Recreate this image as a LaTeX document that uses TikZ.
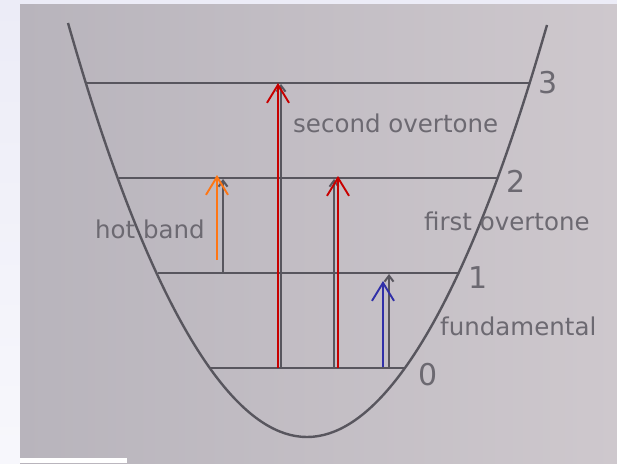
\documentclass[tikz,border=0pt]{standalone}
\usepackage{fontspec}
\setmainfont{DejaVu Sans}
\usepackage{xcolor}
\usepackage{tikz}
\usetikzlibrary{arrows.meta, positioning}

\definecolor{paperL}{RGB}{184,180,188}
\definecolor{paperR}{RGB}{206,200,205}
\definecolor{margin}{RGB}{236,236,247}
\definecolor{ink}{RGB}{88,86,94}
\definecolor{inktext}{RGB}{108,105,113}
\definecolor{redarr}{RGB}{200,0,0}
\definecolor{orangearr}{RGB}{255,118,20}
\definecolor{bluearr}{RGB}{48,48,168}

\begin{document}
\begin{tikzpicture}[
    x=1pt, y=-1pt,
    level/.style={draw=ink, line width=2.4pt},
    well/.style={draw=ink, line width=2.4pt},
    label/.style={inner sep=0pt, anchor=base west, text=inktext, font=\fontsize{24.5}{28}\selectfont},
    quantum/.style={inner sep=0pt, anchor=base, text=inktext, font=\fontsize{30}{34}\selectfont},
    printed/.style={draw=ink, line width=2.4pt, -{Straight Barb[length=6pt,width=9pt,line width=2pt]}},
    arrow/.style={line width=1.9pt, -{Straight Barb[length=18pt,width=22pt,line width=1.9pt]}}
]
    \useasboundingbox (0,0) rectangle (617,463);
    \shade[top color=margin, bottom color=margin!40!white] (0,0) rectangle (20,463);
    \fill[margin] (20,0) rectangle (617,4);
    \shade[left color=paperL, right color=paperR] (20,4) rectangle (617,463);
    \fill[white] (20,458) rectangle (127,463);

    \coordinate (v3w) at (87,83);
    \coordinate (v3e) at (530,83);
    \coordinate (v2w) at (119,178);
    \coordinate (v2e) at (497,178);
    \coordinate (v1w) at (158,273);
    \coordinate (v1e) at (459,273);
    \coordinate (v0w) at (210,368);
    \coordinate (v0e) at (405,368);

    \coordinate (sec0) at (281,368);
    \coordinate (sec3) at (281,84);
    \coordinate (fir0) at (334,368);
    \coordinate (fir2) at (334,179);
    \coordinate (hot1) at (223,273);
    \coordinate (hot2) at (223,179);
    \coordinate (fun0) at (389,368);
    \coordinate (fun1) at (389,274);

    \draw [printed] (sec0) -- (sec3);
    \draw [printed] (fir0) -- (fir2);
    \draw [printed] (hot1) -- (hot2);
    \draw [printed] (fun0) -- (fun1);

    \draw [level] (v3w) -- (v3e);
    \draw [level] (v2w) -- (v2e);
    \draw [level] (v1w) -- (v1e);
    \draw [level] (v0w) -- (v0e);
    \draw [well] (68,23) parabola bend (307,437) (547,25);

    \node (n3) [quantum] at (548,93) {3};
    \node (n2) [quantum] at (516,192) {2};
    \node (n1) [quantum] at (478,288) {1};
    \node (n0) [quantum] at (428,385) {0};

    \node (second) [label] at (293,132) {second overtone};
    \node (first) [label] at (424,230) {first overtone};
    \node (hot) [label] at (95,238) {hot band};
    \node (fund) [label] at (440,335) {fundamental};

    \coordinate (r1a) at (278,368);
    \coordinate (r1b) at (278,83);
    \coordinate (r2a) at (338,368);
    \coordinate (r2b) at (338,176);
    \coordinate (oa) at (217,260);
    \coordinate (ob) at (217,175);
    \coordinate (ba) at (383,367);
    \coordinate (bb) at (383,281);

    \draw [arrow, redarr] (r1a) -- (r1b);
    \draw [arrow, redarr] (r2a) -- (r2b);
    \draw [arrow, orangearr] (oa) -- (ob);
    \draw [arrow, bluearr] (ba) -- (bb);
\end{tikzpicture}
\end{document}
